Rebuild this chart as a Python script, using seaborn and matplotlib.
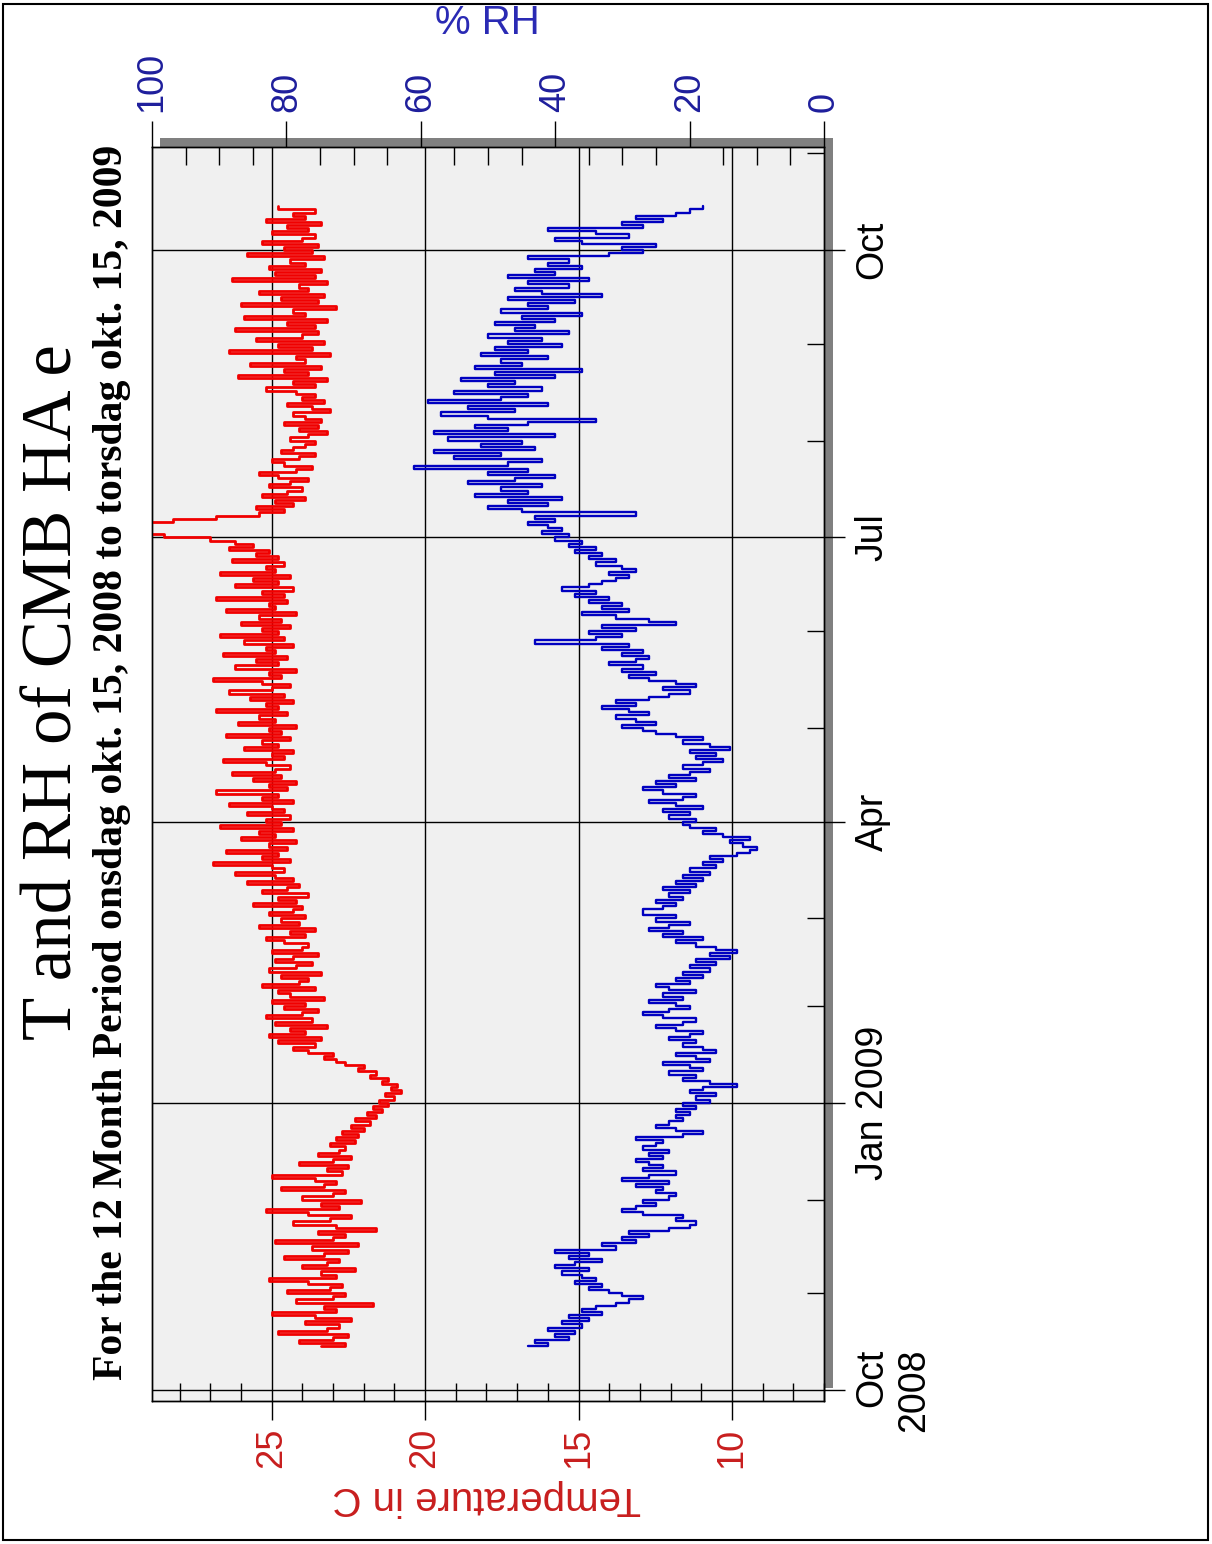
import numpy as np
import pandas as pd
import matplotlib
matplotlib.use("Agg")
import matplotlib.pyplot as plt
import matplotlib.dates as mdates
from matplotlib.patches import Rectangle
from matplotlib.ticker import MultipleLocator, FixedLocator, FixedFormatter
import seaborn as sns

sns.set_style("white")
plt.rcParams['font.family'] = ['Liberation Sans', 'DejaVu Sans']

# ---------------- data (daily readings from 2008-10-15) ----------------
start_date = "2008-10-15"

temp_c = [
    23.4, 22.6, 24.1, 23.0, 22.5, 24.8, 23.2, 22.8, 23.9, 22.4,
    23.6, 25.0, 22.9, 23.3, 21.7, 24.2, 23.0, 22.6, 24.5, 23.1,
    22.7, 23.8, 25.1, 22.9, 23.4, 22.3, 24.0, 23.2, 22.8, 24.6,
    23.3, 22.5, 23.7, 22.2, 24.9, 23.0, 22.6, 23.5, 21.6, 22.9,
    24.3, 23.1, 22.4, 23.8, 25.2, 22.8, 23.4, 22.1, 24.0, 23.0,
    22.6, 24.7, 23.3, 22.9, 23.6, 25.0, 22.7, 23.2, 22.5, 24.1,
    23.0, 22.4, 23.5, 22.8,
    22.6, 23.1, 22.3, 22.9, 22.2, 22.7, 22.0, 22.4, 21.8, 22.3, 21.6, 21.9, 21.4, 21.7,
    21.2, 21.5, 21.0, 21.3, 20.8, 21.1, 20.9, 21.4, 21.2, 21.8,
    21.6, 22.2, 22.0, 22.6, 22.9, 23.3, 23.0, 23.8, 24.3, 23.6,
    24.8, 23.4, 25.1, 23.9, 24.4, 23.2, 24.9, 23.7, 25.2, 24.0,
    23.5, 24.6, 23.9, 25.0, 23.3, 24.4, 24.8, 23.6, 25.3, 24.1,
    23.8, 24.7, 23.4, 25.1, 24.2, 23.7, 24.9, 24.3, 23.5, 25.0,
    24.0, 23.8, 24.6, 25.2, 23.9, 24.4, 23.6, 25.4, 24.1, 24.7,
    23.9, 25.1, 24.3, 24.0, 25.6, 24.2, 24.8, 23.8, 25.3, 24.5,
    24.1, 25.8, 24.3, 24.9,
    26.2, 24.6, 25.0, 26.9, 24.4, 25.3, 24.8, 26.5, 24.5, 25.1,
    24.2, 26.0, 24.9, 25.4, 24.3, 26.7, 24.7, 25.2, 24.4, 25.8,
    24.6, 25.0, 26.4, 24.3, 25.3, 24.8, 26.8, 24.5, 25.1, 24.2,
    25.6, 24.7, 26.3, 24.9, 24.4, 25.2, 26.6, 24.6, 25.0, 24.3,
    25.9, 24.8, 25.3, 24.4, 26.5, 24.7, 25.1, 24.2, 26.1, 24.9,
    25.4, 24.5, 26.8, 24.8, 25.2, 24.3, 25.7, 24.6, 26.4, 25.0,
    24.4, 25.3, 26.9, 24.7, 25.1, 24.2, 26.2, 24.8, 25.5, 24.5,
    26.6, 24.9, 25.2, 24.3, 25.9, 24.6, 26.7, 24.8, 25.3, 24.4,
    26.0, 24.7, 25.4, 24.2, 26.5, 24.9, 25.1, 24.5, 26.8, 24.6,
    25.3, 24.3, 26.2, 24.8, 25.6, 24.4, 26.7, 24.9, 25.2, 24.6,
    26.3, 24.8, 25.5, 25.1, 26.4, 25.6, 26.2,
    27.0, 28.5, 29.6, 30.0, 29.8, 29.5, 28.2, 26.8, 25.4, 24.6,
    25.5, 24.3, 24.9, 23.9, 25.3, 24.5, 24.0, 25.1, 24.4, 23.8,
    24.8, 25.4, 24.2, 23.7, 24.6, 25.0, 24.1, 23.6, 24.7, 24.3, 23.9,
    23.6, 24.4, 23.8, 23.2, 24.1, 23.5, 24.6, 23.4, 23.9, 24.3,
    23.1, 23.7, 24.5, 23.3, 24.0, 23.6, 24.2,
    25.2, 23.6, 24.3, 23.2, 26.1, 23.8, 24.6, 23.4, 25.7, 23.9,
    24.2, 23.1, 26.4, 23.7, 24.8, 23.3, 25.5, 24.0, 23.5, 26.2,
    23.6, 24.5, 23.2, 25.9, 23.9, 24.3, 22.9, 26.0, 23.5, 24.7,
    23.3, 25.4, 23.8, 24.1, 23.2, 26.3, 23.6, 24.9, 23.4, 25.1,
    23.9, 24.4, 23.3, 25.8, 23.7, 24.6, 23.5, 25.3, 24.0, 23.6,
    25.0, 23.8, 24.5, 23.4, 25.2, 23.9, 24.3, 23.6, 24.8,
]

rh_pct = [
    44, 41, 43, 38, 40, 37, 41, 36, 39, 35,
    38, 33, 36, 34, 31, 29, 27, 30, 32, 35,
    33, 37, 34, 36, 39, 35, 40, 37, 33, 38,
    35, 40, 31, 33, 28, 30, 26, 29, 23, 20,
    19, 22, 21, 27, 30, 28, 25, 27, 23, 22,
    25, 24, 28, 23, 30, 26, 22, 27, 24, 26,
    28, 24, 26, 23, 27, 25, 24, 28, 21, 18,
    22, 25, 23, 21, 22, 20, 22, 19, 21, 17,
    19, 16, 20, 18, 13, 17, 21, 19, 23, 18,
    20, 24, 17, 19, 22, 16, 18, 21, 19, 23,
    20, 18, 22, 25, 21, 19, 24, 27, 23, 20,
    22, 26, 21, 24, 19, 23, 25, 20, 22, 18,
    21, 17, 20, 16, 19, 14, 17, 13, 16, 19,
    22, 18, 24, 21, 26, 23, 20, 25, 22, 27,
    27, 24, 22, 25, 21, 23, 20, 24, 19, 22,
    18, 21, 17, 20, 16, 18, 15, 17, 13, 11,
    10, 12, 14, 11, 15, 18, 16, 20,
    21, 19, 23, 20, 24, 18, 22, 26, 21, 19,
    24, 27, 22, 25, 19, 23, 20, 17, 21, 18,
    15, 19, 16, 20, 14, 17, 21, 18, 22, 25,
    27, 30, 25, 28, 31, 26, 29, 33, 28, 31,
    26, 23, 20, 24, 19, 22, 26, 29, 25, 30,
    27, 32, 28, 26, 30, 27, 33, 29, 43, 34,
    30, 35, 28, 33, 22, 26, 31, 36, 29, 33,
    30, 35, 32, 37, 34, 39, 35, 33, 31, 29,
    32, 28, 30, 34, 31, 35, 33, 37, 34, 38,
    36, 40, 38, 42, 39, 41, 44, 40, 43, 28,
    45, 50, 41, 47, 39, 52, 44, 48, 42, 53,
    46, 40, 50, 44, 61, 47, 42, 55, 48, 58,
    43, 51, 45, 56, 40, 58, 47, 52, 44, 34,
    50, 57, 46, 53, 41, 59, 48, 44, 55, 42,
    50, 46, 54, 40, 49, 36, 52, 45, 48, 41,
    51, 44, 49, 39, 47, 42, 50, 38, 46, 43,
    49, 40, 45, 36, 48, 41, 44, 37, 47, 33,
    42, 46, 38, 44, 35, 47, 40, 43, 36, 41,
    38, 44, 32, 27, 30, 25, 36, 40, 29, 34,
    41, 27, 30, 24, 28, 22, 20, 18,
]

time_tick_dates = ["2008-10-01", "2009-01-01", "2009-04-01", "2009-07-01", "2009-10-01"]
time_tick_labels = ["Oct\n2008", "Jan 2009", "Apr", "Jul", "Oct"]
temp_ticks = [25, 20, 15, 10]
rh_ticks = [100, 80, 60, 40, 20, 0]

title_text = "T and RH of CMB HA e"
subtitle_text = "For the 12 Month Period onsdag okt. 15, 2008 to torsdag okt. 15, 2009"

# ---------------- frames ----------------
df_t = pd.DataFrame({"date": pd.date_range(start_date, periods=len(temp_c), freq="D"),
                     "T": temp_c})
df_rh = pd.DataFrame({"date": pd.date_range(start_date, periods=len(rh_pct), freq="D"),
                      "RH": rh_pct})

W, H = 1212, 1544
fig = plt.figure(figsize=(W / 100, H / 100), dpi=100)
fig.patch.set_facecolor("white")

ax_l, ax_r, ax_t, ax_b = 152, 824, 147, 1401
ax = fig.add_axes([ax_l / W, (H - ax_b) / H, (ax_r - ax_l) / W, (ax_b - ax_t) / H])
ax.set_facecolor("#f0f0f0")

red_line = "#f00000"
blue_line = "#0000c0"
red_text = "#c81e1e"
blue_text = "#1e1e9c"

sns.lineplot(data=df_t, x="T", y="date", sort=False, estimator=None, orient="y",
             drawstyle="steps-post", color=red_line, lw=2.0, ax=ax, zorder=3)

ax2 = ax.twiny()
sns.lineplot(data=df_rh, x="RH", y="date", sort=False, estimator=None, orient="y",
             drawstyle="steps-post", color=blue_line, lw=1.7, ax=ax2, zorder=3)

y0 = mdates.date2num(pd.Timestamp("2008-09-27 12:00"))
y1 = mdates.date2num(pd.Timestamp("2009-11-03"))
ax.set_ylim(y0, y1)
ax.set_xlim(28.9, 7.0)
ax2.set_xlim(100, 0)
ax2.set_ylim(y0, y1)

for a in (ax, ax2):
    a.set_xlabel("")
    a.set_ylabel("")
    for s in a.spines.values():
        s.set_color("black")
        s.set_linewidth(1.0)

# temperature axis (bottom)
ax.xaxis.set_major_locator(FixedLocator(temp_ticks))
ax.xaxis.set_major_formatter(FixedFormatter([str(v) for v in temp_ticks]))
ax.xaxis.set_minor_locator(MultipleLocator(1))
ax.tick_params(axis="x", which="major", direction="out", length=14, width=1,
               bottom=True, top=False, labelbottom=True, labelsize=26,
               labelcolor=red_text, pad=5, color="black")
ax.tick_params(axis="x", which="minor", direction="in", length=13, width=1,
               bottom=True, top=False, color="black")
for lbl in ax.get_xticklabels():
    lbl.set_rotation(90)
    lbl.set_ha("center")
    lbl.set_va("top")

# time axis (right)
ax.yaxis.set_major_locator(FixedLocator(mdates.date2num(pd.to_datetime(time_tick_dates))))
ax.yaxis.set_major_formatter(FixedFormatter(time_tick_labels))
ax.yaxis.set_minor_locator(mdates.MonthLocator())
ax.tick_params(axis="y", which="major", direction="out", length=15, width=1,
               left=False, right=True, labelleft=False, labelright=True,
               labelsize=27, labelcolor="black", pad=7, color="black")
ax.tick_params(axis="y", which="minor", direction="in", length=12, width=1,
               left=False, right=True, color="black")
for lbl in ax.get_yticklabels():
    lbl.set_rotation(90)
    lbl.set_ha("left")
    lbl.set_va("center")
    lbl.set_multialignment("right")

# RH axis (top)
ax2.xaxis.set_major_locator(FixedLocator(rh_ticks))
ax2.xaxis.set_major_formatter(FixedFormatter([str(v) for v in rh_ticks]))
ax2.xaxis.set_minor_locator(MultipleLocator(5))
ax2.tick_params(axis="x", which="major", direction="out", length=19, width=1,
                top=True, bottom=False, labeltop=True, labelbottom=False,
                labelsize=26, labelcolor=blue_text, pad=6, color="black")
ax2.tick_params(axis="x", which="minor", direction="in", length=13, width=1,
                top=True, bottom=False, color="black")
for lbl in ax2.get_xticklabels():
    lbl.set_rotation(90)
    lbl.set_ha("center")
    lbl.set_va("bottom")

ax.grid(True, which="major", color="black", lw=1.0)
ax.grid(False, which="minor")
ax2.grid(False)
ax.set_axisbelow(True)

# drop shadow of the plot frame
shadow = "#808080"
fig.add_artist(Rectangle((160 / W, (H - 147) / H), (833 - 160) / W, 9 / H,
                         transform=fig.transFigure, color=shadow, lw=0, zorder=0))
fig.add_artist(Rectangle((825 / W, (H - 1388) / H), 8 / W, (1388 - 138) / H,
                         transform=fig.transFigure, color=shadow, lw=0, zorder=0))

# page border
fig.add_artist(Rectangle((3 / W, 4 / H), (1208 - 3) / W, (1540 - 4) / H,
                         transform=fig.transFigure, fill=False, edgecolor="black", lw=1.5))

# texts
fig.text(54 / W, 1 - 692 / H, title_text, rotation=90, ha="center", va="center",
         fontsize=51, family=["Liberation Serif", "DejaVu Serif"], color="black")
fig.text(112 / W, 1 - 762 / H, subtitle_text, rotation=90, ha="center", va="center",
         fontsize=30, fontweight="bold", family=["Liberation Serif", "DejaVu Serif"],
         color="black")
fig.text(487 / W, 1 - 23 / H, "% RH", ha="center", va="center", fontsize=29,
         color="#2a2ab4")
fig.text(487 / W, 1 - 1498 / H, "Temperature in C", rotation=180, ha="center",
         va="center", fontsize=29, color=red_text)

fig.savefig("out.png", dpi=100, facecolor="white")
